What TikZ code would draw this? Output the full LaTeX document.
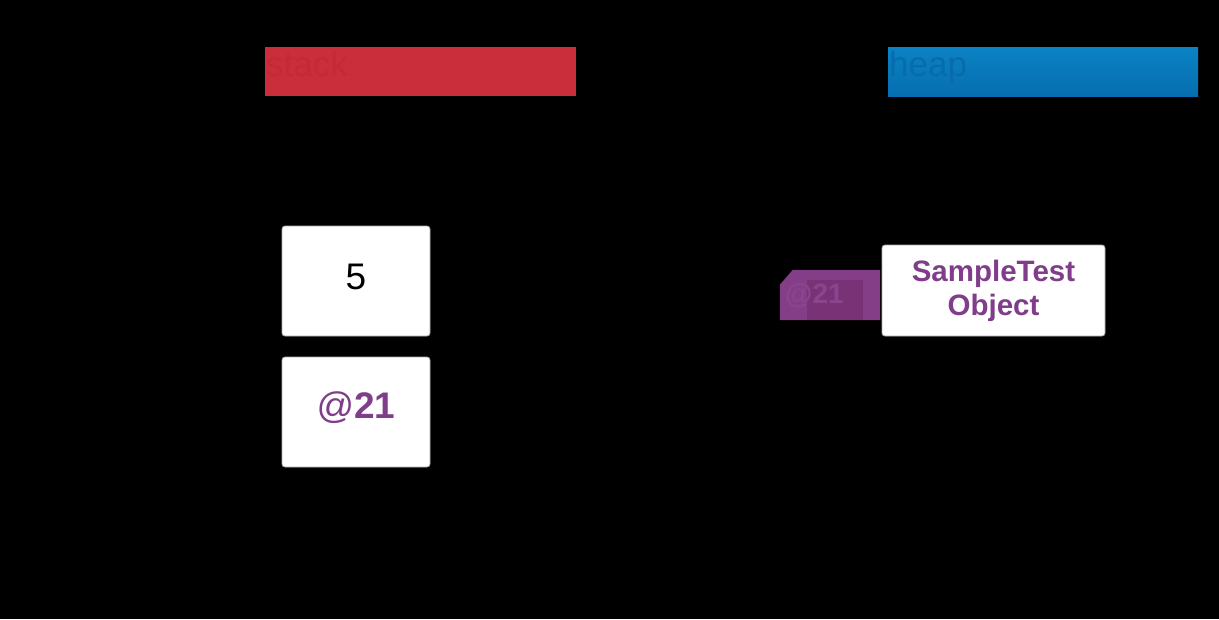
\documentclass[tikz,border=0pt]{standalone}
\usepackage{fontspec}
\setmainfont{Liberation Sans}
\definecolor{stackred}{RGB}{203,46,59}
\definecolor{stacktxt}{RGB}{198,40,54}
\definecolor{heaptop}{RGB}{11,130,196}
\definecolor{heapbot}{RGB}{6,110,176}
\definecolor{heaptxt}{RGB}{8,108,172}
\definecolor{purp}{RGB}{128,62,138}
\definecolor{purpfill}{RGB}{132,62,136}
\definecolor{purpdark}{RGB}{122,50,118}
\definecolor{purptxt}{RGB}{137,70,142}
\definecolor{edge}{RGB}{170,170,170}
\begin{document}
\begin{tikzpicture}[x=1pt,y=-1pt,
  cell/.style={draw=edge, line width=0.8pt, fill=white, rounded corners=3pt, inner sep=0pt, align=center},
  header/.style={inner sep=0pt, anchor=north west},
  htext/.style={inner sep=0pt, anchor=base west, font=\fontsize{35}{42}\selectfont}
]
\useasboundingbox (0,0) rectangle (1219,619);
\fill[black] (0,0) rectangle (1219,619);
% headers
\node[header, fill=stackred, minimum width=311pt, minimum height=49pt] (stackhdr) at (265,47) {};
\node[htext, text=stacktxt] (stacklbl) at (266,76) {stack};
\node[header, top color=heaptop, bottom color=heapbot, minimum width=310pt, minimum height=49pt] (heaphdr) at (888,47) {};
\node[htext, text=heaptxt] (heaplbl) at (889,76) {heap};
% stack cells
\node[cell, minimum width=148pt, minimum height=110pt] (v5) at (356,281) {};
\node[inner sep=0pt, font=\fontsize{37}{44}\selectfont] (v5txt) at ([yshift=4pt]v5.center) {5};
\node[cell, minimum width=148pt, minimum height=110pt] (ref) at (356,412) {};
\node[inner sep=0pt, text=purp, font=\fontsize{37}{44}\selectfont] (reftxt) at ([yshift=4pt]ref.center) {@\textbf{21}};
% heap object
\node[cell, minimum width=223pt, minimum height=91pt, text=purp, font=\bfseries\fontsize{29.5}{34}\selectfont] (obj) at (993.5,290.5) {SampleTest\\Object};
% address label
\node[inner sep=0pt, minimum width=100pt, minimum height=50pt] (addr) at (830,295) {};
\fill[purpfill] ([yshift=-15pt]addr.north west) -- ([xshift=13pt]addr.north west) -- (addr.north east) -- (addr.south east) -- (addr.south west) -- cycle;
\fill[purpdark] ([xshift=27pt,yshift=15pt]addr.west) rectangle ([xshift=-17pt]addr.south east);
\node[inner sep=0pt, anchor=base west, text=purptxt, font=\bfseries\fontsize{28}{33}\selectfont] (addrtxt) at (785,303) {@21};
\end{tikzpicture}
\end{document}
